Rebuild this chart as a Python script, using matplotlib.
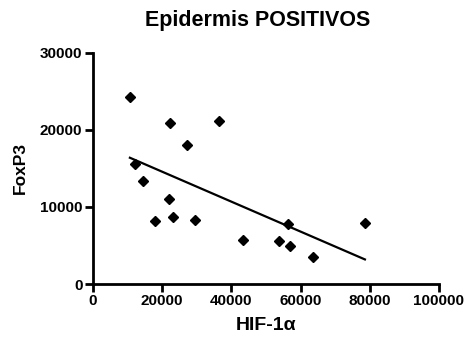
import matplotlib.pyplot as plt
import numpy as np

plt.rcParams['font.family'] = ['Liberation Sans', 'DejaVu Sans']
plt.rcParams['font.weight'] = 'bold'

hif = [10700, 12100, 14450, 22250, 36400, 27200, 22000, 17900, 23100, 29500,
       43350, 53750, 56350, 56950, 63600, 78600]
foxp3 = [24300, 15600, 13400, 20900, 21200, 18050, 11040, 8200, 8700, 8300,
         5700, 5600, 7800, 4900, 3500, 7900]

fig = plt.figure(figsize=(4.69, 3.41), dpi=100)
ax = fig.add_axes([0.198, 0.167, 0.738, 0.678])

ax.plot(hif, foxp3, 'D', color='black', markersize=5.5)

m, b = np.polyfit(hif, foxp3, 1)
xl = np.array([min(hif), max(hif)])
ax.plot(xl, m * xl + b, color='black', lw=1.6)

ax.set_xlim(0, 100000)
ax.set_ylim(0, 30000)
ax.set_xticks([0, 20000, 40000, 60000, 80000, 100000])
ax.set_yticks([0, 10000, 20000, 30000])
for s in ['top', 'right']:
    ax.spines[s].set_visible(False)
for s in ['left', 'bottom']:
    ax.spines[s].set_linewidth(2)
ax.tick_params(width=2, length=5.5, pad=2, labelsize=11)

ax.set_xlabel('HIF-1α', fontsize=14, fontweight='bold', labelpad=6)
ax.set_ylabel('FoxP3', fontsize=12.5, fontweight='bold', labelpad=9)
ax.set_title('Epidermis POSITIVOS', fontsize=15.5, fontweight='bold', pad=19, x=0.477)

fig.savefig('out.png', dpi=100)
